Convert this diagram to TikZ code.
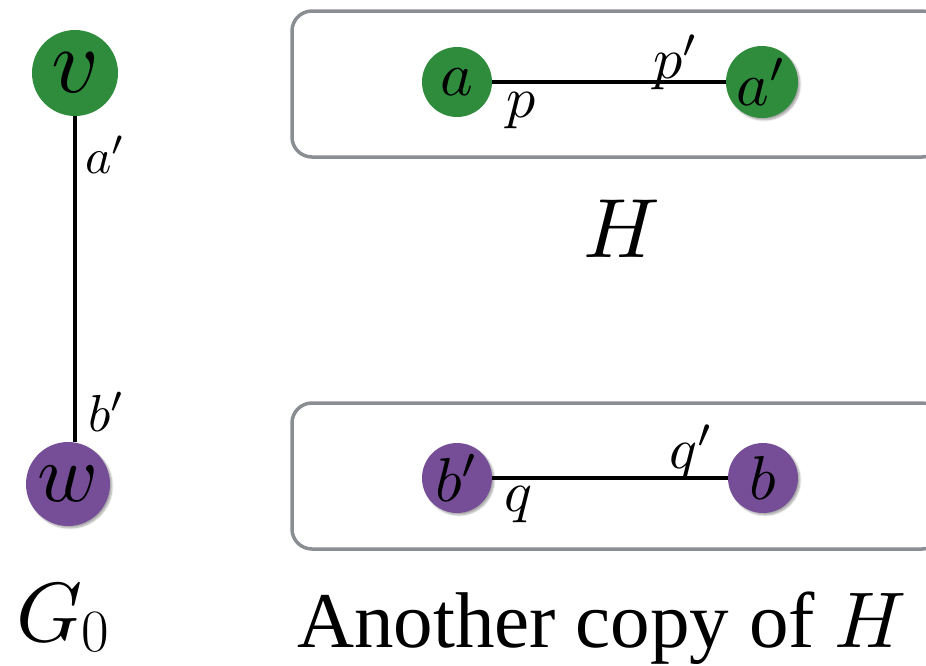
\documentclass[tikz,border=0pt]{standalone}
\usepackage{graphicx}
\usepackage[no-math]{fontspec}
\newfontfamily\capfont{Liberation Serif}
\usetikzlibrary{shadows.blur}
\definecolor{vgreen}{RGB}{46,140,60}
\definecolor{vpurple}{RGB}{118,78,152}
\definecolor{boxgray}{RGB}{138,141,146}
% math set at 10pt and magnified
\newcommand{\bigmath}[2]{{\fontsize{10}{12}\selectfont\scalebox{#1}{$#2$}}}
\newcommand{\fs}[1]{\fontsize{#1}{1.2\dimexpr#1pt\relax}\selectfont}
\tikzset{
  vert/.style={circle, inner sep=0pt, minimum size=#1},
  gvert/.style={vert=#1, fill=vgreen},
  pvert/.style={vert=#1, fill=vpurple},
  shade/.style={blur shadow={shadow xshift=2pt, shadow yshift=-2pt, shadow blur steps=6, shadow opacity=35}},
  edge/.style={line width=3.8pt},
  frame/.style={draw=boxgray, line width=3.5pt, rounded corners=20pt, minimum width=650pt, minimum height=146pt, inner sep=0pt},
  lab/.style={inner sep=0pt}
}
\begin{document}
\begin{tikzpicture}[x=1pt, y=-1pt]
\useasboundingbox (0,0) rectangle (926,665);
% left graph G_0
\node[gvert=86pt] (v) at (75,73) {\bigmath{9.2}{v}};
\node[pvert=84pt, shade] (w) at (68,484) {\bigmath{8.2}{w}};
\draw[edge] (v.south) -- (v.south |- w.north);
\node[lab, anchor=west] (la) at (85,155) {\bigmath{5.0}{a'}};
\node[lab, anchor=west] (lb) at (88,412) {\bigmath{5.2}{b'}};
\node[anchor=base west, inner sep=0pt] (G) at (16,641)
  {\bigmath{8.4}{G}\kern-1pt\raisebox{-10pt}{\fs{60}0}};
% H
\node[frame] (boxH) at (617,84) {};
\node[gvert=70pt] (a) at (457,82) {\bigmath{6.2}{a}};
\node[gvert=72pt, shade] (a2) at (762,82) {\bigmath{6.2}{a'}};
\draw[edge] (a) -- (a2);
\node[lab] (p) at (521,111) {\bigmath{5.8}{p}};
\node[lab] (p2) at (676,62) {\bigmath{5.8}{p'}};
\node[anchor=base, inner sep=0pt] (H) at (622,257) {\bigmath{8.4}{H}};
% second copy of H
\node[frame] (boxK) at (617,476) {};
\node[pvert=70pt, shade] (b2) at (457,478) {\bigmath{6.2}{b'}};
\node[pvert=70pt, shade] (b) at (763,478) {\bigmath{6.2}{b}};
\draw[edge] (b2) -- (b);
\node[lab] (q) at (518,505) {\bigmath{5.8}{q}};
\node[lab] (q2) at (692,452) {\bigmath{5.8}{q'}};
\node[anchor=base, inner sep=0pt] (cap) at (602,647)
  {\fs{79}\capfont Another copy of \bigmath{7.9}{H}};
\end{tikzpicture}
\end{document}
